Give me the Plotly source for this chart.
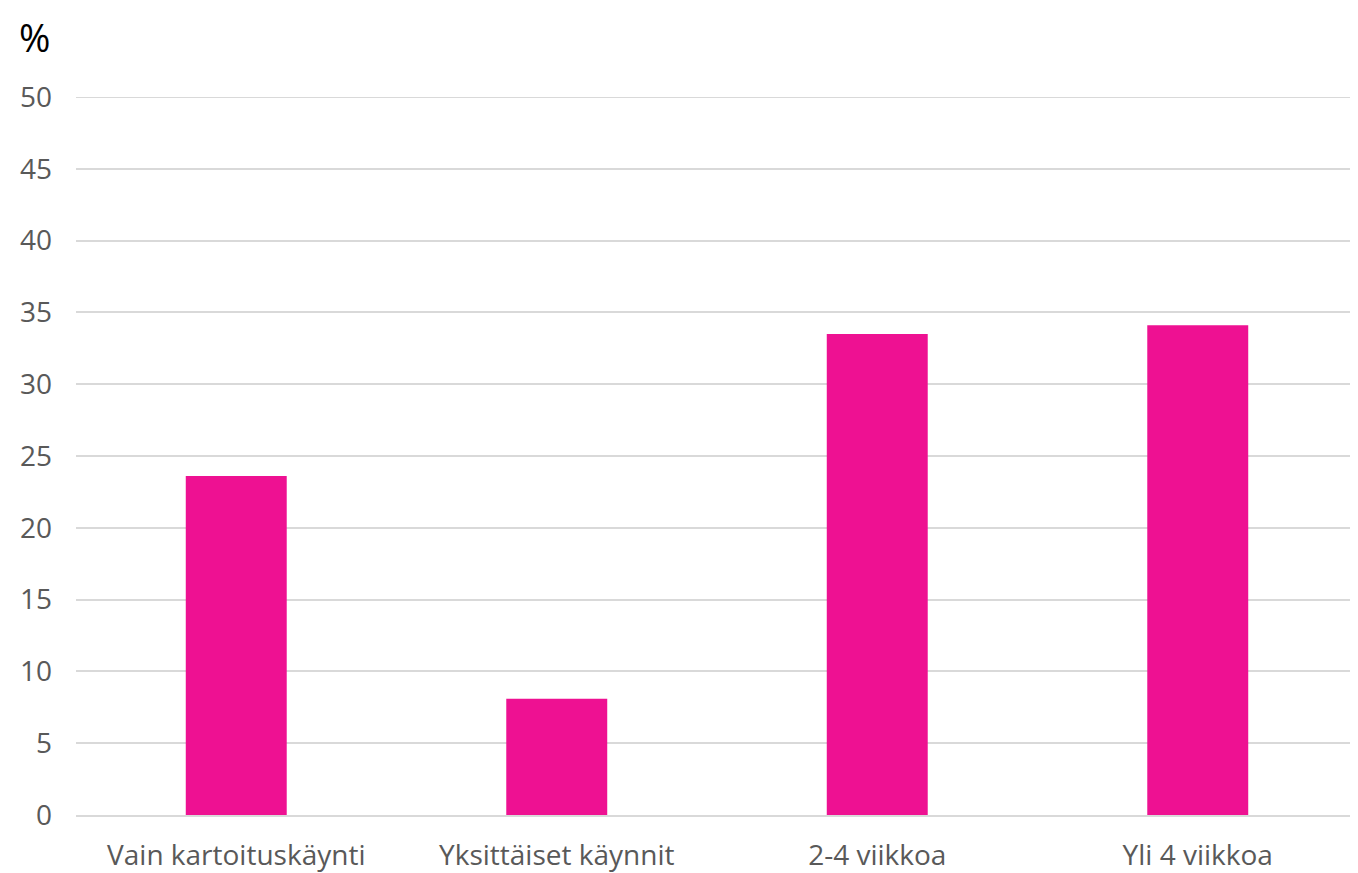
import plotly.graph_objects as go

categories = ["Vain kartoituskäynti", "Yksittäiset käynnit", "2-4 viikkoa", "Yli 4 viikkoa"]
values = [23.6, 8.1, 33.5, 34.1]
y_ticks = [0, 5, 10, 15, 20, 25, 30, 35, 40, 45, 50]

fig = go.Figure(
    go.Bar(x=categories, y=values, marker=dict(color="#EE1192", line=dict(width=0)), width=0.315)
)

# page body has an 8px margin, so the figure is a bit smaller than the window
fig.update_layout(
    width=1350, height=865,
    margin=dict(l=68, r=0, t=89, b=58),
    plot_bgcolor="white", paper_bgcolor="white",
    font=dict(family="Open Sans, Noto Sans, sans-serif", size=28, color="#595959"),
    showlegend=False,
    annotations=[dict(text="%", xref="paper", yref="paper", x=0, y=1.0, xshift=-42, yshift=88,
                      xanchor="center", yanchor="top", showarrow=False,
                      font=dict(size=38, color="black"))],
    shapes=[dict(type="line", xref="paper", yref="y", x0=0, x1=1, y0=y_ticks[-1], y1=y_ticks[-1],
                 line=dict(color="#D9D9D9", width=2), layer="below")],
)
fig.update_xaxes(showline=True, linecolor="#D9D9D9", linewidth=2, ticks="", ticklabelstandoff=14,
                 automargin=False)
fig.update_yaxes(range=[0, 50], tickvals=y_ticks, showgrid=True, gridcolor="#D9D9D9", gridwidth=2,
                 zeroline=False, ticks="", ticklabelstandoff=23, automargin=False)

fig.write_html("out.html")
